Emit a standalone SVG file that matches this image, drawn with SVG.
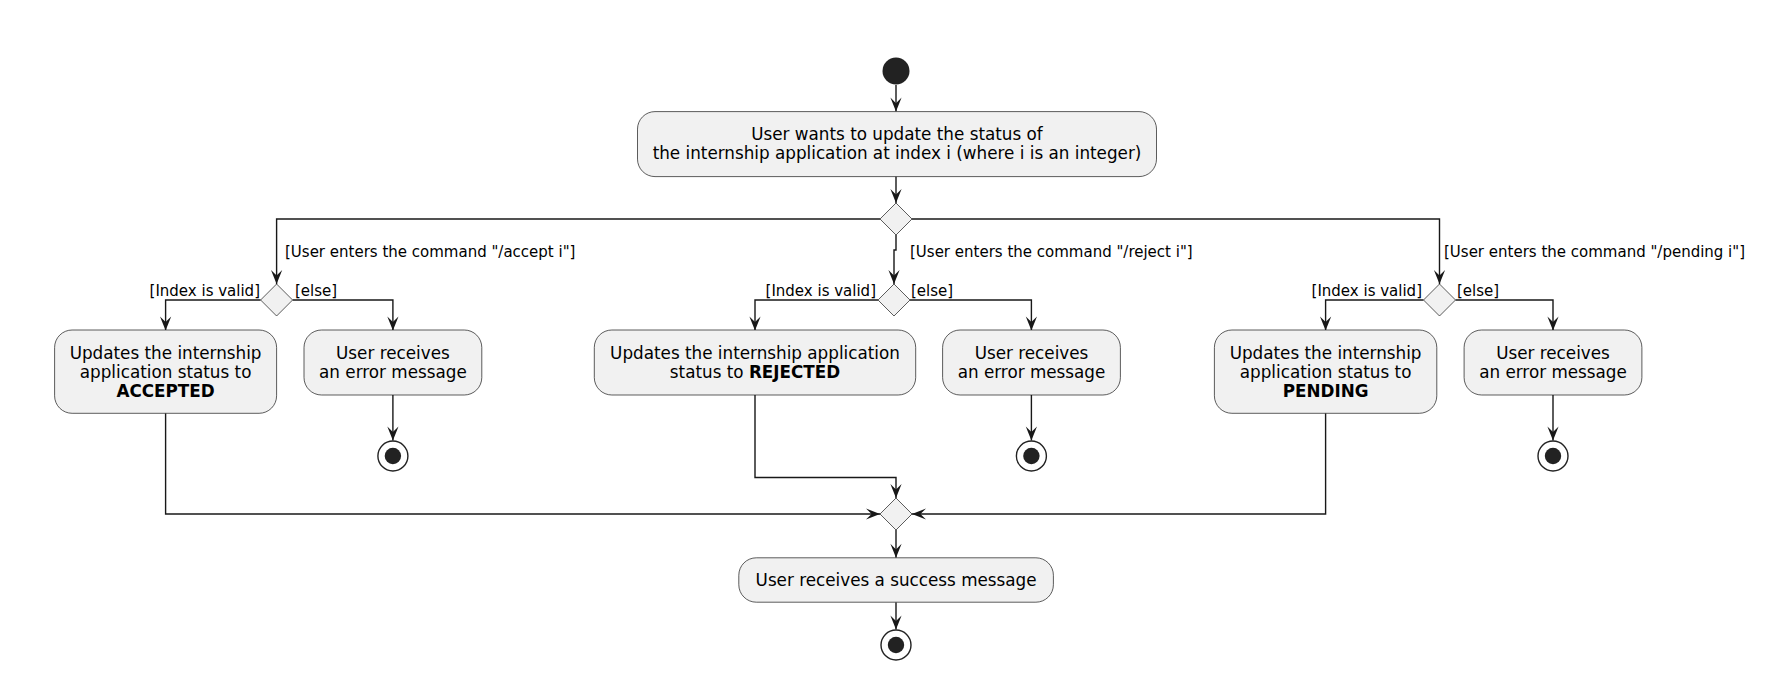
<svg xmlns="http://www.w3.org/2000/svg" width="1785" height="675" viewBox="0 0 1785 675">
<style>
.box{fill:#F1F1F1;stroke:#181818;stroke-width:0.7}
.dia{fill:#F1F1F1;stroke:#181818;stroke-width:0.7}
.t{font-family:"DejaVu Sans",Verdana,sans-serif;font-size:16.8px;fill:#000;text-anchor:middle}
.b{font-weight:bold}
.l{font-family:"DejaVu Sans",Verdana,sans-serif;font-size:15px;fill:#000}
.e{text-anchor:end}
.c{fill:none;stroke:#181818;stroke-width:1.4}
.start{fill:#222222}
.endo{fill:none;stroke:#222222;stroke-width:1.4}
.endi{fill:#222222}
</style>
<defs>
<marker id="arr" viewBox="-15 -7 16 14" refX="0" refY="0" markerWidth="16" markerHeight="14" markerUnits="userSpaceOnUse" orient="auto">
<path d="M0,0 L-14,-5.6 L-8.4,0 L-14,5.6 Z" fill="#181818"/>
</marker>
</defs>

<g id="connectors">
<path class="c" d="M896,85 V111.6" marker-end="url(#arr)"/>
<path class="c" d="M896,176.5 V203" marker-end="url(#arr)"/>
<path class="c" d="M880,219 H276.6 V284" marker-end="url(#arr)"/>
<path class="c" d="M912,219 H1439.5 V284" marker-end="url(#arr)"/>
<path class="c" d="M896,235 V250 H894 V284" marker-end="url(#arr)"/>
<path class="c" d="M260.6,300 H165.6 V330.5" marker-end="url(#arr)"/>
<path class="c" d="M292.6,300 H392.9 V330.5" marker-end="url(#arr)"/>
<path class="c" d="M392.9,395 V440.5" marker-end="url(#arr)"/>
<path class="c" d="M878,300 H755 V330.5" marker-end="url(#arr)"/>
<path class="c" d="M910,300 H1031.4 V330.5" marker-end="url(#arr)"/>
<path class="c" d="M1031.4,395 V440.5" marker-end="url(#arr)"/>
<path class="c" d="M1423.5,300 H1325.6 V330.5" marker-end="url(#arr)"/>
<path class="c" d="M1455.5,300 H1553 V330.5" marker-end="url(#arr)"/>
<path class="c" d="M1553,395 V440.5" marker-end="url(#arr)"/>
<path class="c" d="M165.6,413.3 V514 H880" marker-end="url(#arr)"/>
<path class="c" d="M755,395 V477.5 H896 V498" marker-end="url(#arr)"/>
<path class="c" d="M1325.6,413.3 V514 H912" marker-end="url(#arr)"/>
<path class="c" d="M896,530 V557.8" marker-end="url(#arr)"/>
<path class="c" d="M896,602.2 V629.5" marker-end="url(#arr)"/>
<text class="l" x="285" y="257">[User enters the command "/accept i"]</text>
<text class="l" x="910" y="257">[User enters the command "/reject i"]</text>
<text class="l" x="1444" y="257">[User enters the command "/pending i"]</text>
<text class="l e" x="260" y="295.5">[Index is valid]</text>
<text class="l" x="295" y="295.5">[else]</text>
<text class="l e" x="876" y="295.5">[Index is valid]</text>
<text class="l" x="911" y="295.5">[else]</text>
<text class="l e" x="1422" y="295.5">[Index is valid]</text>
<text class="l" x="1457" y="295.5">[else]</text>
</g>

<g id="start"><circle class="start" cx="896" cy="71" r="13.5"/></g>

<g id="updateRequest">
<rect class="box" x="637.5" y="111.6" width="519" height="65" rx="17.5" ry="17.5"/>
<text class="t" x="897" y="140">User wants to update the status of</text>
<text class="t" x="897" y="159">the internship application at index i (where i is an integer)</text>
</g>

<g id="commandDecision"><polygon class="dia" points="896,203 912,219 896,235 880,219"/></g>

<g id="acceptDecision"><polygon class="dia" points="276.6,284 292.6,300 276.6,316 260.6,300"/></g>
<g id="rejectDecision"><polygon class="dia" points="894,284 910,300 894,316 878,300"/></g>
<g id="pendingDecision"><polygon class="dia" points="1439.5,284 1455.5,300 1439.5,316 1423.5,300"/></g>

<g id="acceptUpdate">
<rect class="box" x="54.6" y="330" width="222" height="83.3" rx="17.5" ry="17.5"/>
<text class="t" x="165.6" y="358.5">Updates the internship</text>
<text class="t" x="165.6" y="377.5">application status to</text>
<text class="t b" x="165.6" y="396.5">ACCEPTED</text>
</g>
<g id="acceptError">
<rect class="box" x="304" y="330" width="177.8" height="65" rx="17.5" ry="17.5"/>
<text class="t" x="392.9" y="358.5">User receives</text>
<text class="t" x="392.9" y="377.5">an error message</text>
</g>
<g id="acceptEnd"><circle class="endo" cx="392.9" cy="456" r="15"/><circle class="endi" cx="392.9" cy="456" r="8.2"/></g>

<g id="rejectUpdate">
<rect class="box" x="594.3" y="330" width="321.4" height="65" rx="17.5" ry="17.5"/>
<text class="t" x="755" y="358.5">Updates the internship application</text>
<text class="t" x="755" y="377.5">status to <tspan class="b">REJECTED</tspan></text>
</g>
<g id="rejectError">
<rect class="box" x="942.6" y="330" width="177.8" height="65" rx="17.5" ry="17.5"/>
<text class="t" x="1031.5" y="358.5">User receives</text>
<text class="t" x="1031.5" y="377.5">an error message</text>
</g>
<g id="rejectEnd"><circle class="endo" cx="1031.4" cy="456" r="15"/><circle class="endi" cx="1031.4" cy="456" r="8.2"/></g>

<g id="pendingUpdate">
<rect class="box" x="1214.4" y="330" width="222.4" height="83.3" rx="17.5" ry="17.5"/>
<text class="t" x="1325.6" y="358.5">Updates the internship</text>
<text class="t" x="1325.6" y="377.5">application status to</text>
<text class="t b" x="1325.6" y="396.5">PENDING</text>
</g>
<g id="pendingError">
<rect class="box" x="1464.1" y="330" width="177.8" height="65" rx="17.5" ry="17.5"/>
<text class="t" x="1553" y="358.5">User receives</text>
<text class="t" x="1553" y="377.5">an error message</text>
</g>
<g id="pendingEnd"><circle class="endo" cx="1553" cy="456" r="15"/><circle class="endi" cx="1553" cy="456" r="8.2"/></g>

<g id="merge"><polygon class="dia" points="896,498 912,514 896,530 880,514"/></g>

<g id="success">
<rect class="box" x="738.8" y="557.8" width="314.6" height="44.4" rx="17.5" ry="17.5"/>
<text class="t" x="896.1" y="585.5">User receives a success message</text>
</g>
<g id="finalEnd"><circle class="endo" cx="896" cy="645" r="15"/><circle class="endi" cx="896" cy="645" r="8.2"/></g>
</svg>
